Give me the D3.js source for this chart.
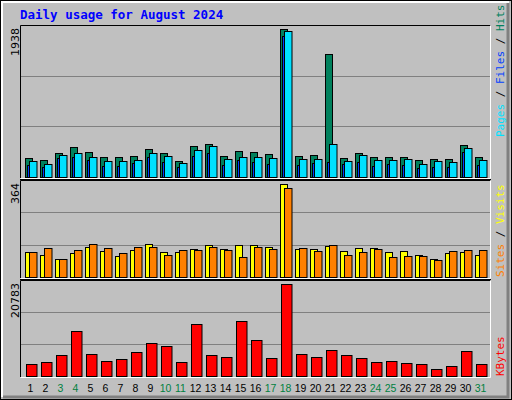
<!DOCTYPE html>
<html><head><meta charset="utf-8">
<script src="https://cdn.jsdelivr.net/npm/d3@7"></script>
<style>body{margin:0;background:#fff}</style>
</head><body><div id="chart"></div>
<script>
// daily values
const days = d3.range(1, 32);
const weekend = [3, 4, 10, 11, 17, 18, 24, 25, 31];
const hits = [254,228,320,399,333,267,267,281,373,320,215,412,438,281,346,333,307,1938,281,294,1609,254,320,267,267,267,228,241,241,425,267];
const files = [215,175,294,320,267,215,215,228,320,281,189,360,412,241,267,267,254,1912,241,241,438,215,294,228,228,241,175,215,202,386,228];
const pages = [162,136,254,267,228,149,149,189,267,202,136,281,320,162,228,202,175,1846,162,189,202,175,202,149,175,162,123,136,136,333,162];
const visits = [96,88,72,92,116,100,84,104,131,96,96,108,124,108,124,124,116,364,108,108,120,100,112,112,96,100,88,72,92,96,88];
const sites = [96,112,72,104,128,112,92,116,116,88,104,104,116,104,80,116,108,348,112,100,124,88,96,108,80,84,84,68,100,104,104];
const kbytes = [2806,3261,4854,10088,5082,3489,3944,5309,7357,6675,3261,11681,4854,4399,12364,8040,4172,20783,5082,4399,5764,4854,4172,3261,3489,3034,2806,1669,2351,5537,2806];

const W = 512, H = 400;
const svg = d3.select('#chart').append('svg').attr('width', W).attr('height', H)
  .style('font-family', 'DejaVu Sans Mono, monospace');

// frame with bevel
svg.append('rect').attr('x', 0).attr('y', 0).attr('width', W).attr('height', H).attr('fill', '#c0c0c0');
svg.append('rect').attr('x', 0.5).attr('y', 0.5).attr('width', W - 1).attr('height', H - 1).attr('fill', 'none').attr('stroke', '#000');
svg.append('path').attr('d', 'M2,397V2H509').attr('stroke', '#fff').attr('stroke-width', 2).attr('fill', 'none');
svg.append('path').attr('d', 'M3,397H508V3').attr('stroke', '#808080').attr('stroke-width', 3).attr('fill', 'none');

svg.append('text').attr('x', 20).attr('y', 19).text('Daily usage for August 2024')
  .attr('fill', '#0000ff').attr('font-weight', 'bold').attr('font-size', 12.5);

const x = d3.scaleBand().domain(days).range([21, 486]);

const panels = [
  {top: 25, bottom: 177, max: 1938},
  {top: 180, bottom: 277, max: 364},
  {top: 280, bottom: 376, max: 20783}
];
panels.forEach(p => {
  p.y = d3.scaleLinear().domain([0, p.max]).range([p.bottom, p.top + 4]);
  const g = svg.append('g');
  g.append('rect').attr('x', 20).attr('y', p.top).attr('width', 471).attr('height', p.bottom - p.top + 1)
    .attr('fill', '#c0c0c0');
  [1, 2].forEach(i => {
    const yy = Math.round(p.bottom - (p.bottom - p.top) * i / 3) + 0.5;
    g.append('line').attr('x1', 21).attr('x2', 490).attr('y1', yy).attr('y2', yy).attr('stroke', '#808080');
  });
  g.append('path').attr('d', `M20.5,${p.bottom + 1}V${p.top + 0.5}H490.5`).attr('stroke', '#000').attr('fill', 'none');
  g.append('path').attr('d', `M20.5,${p.bottom + 1.5}H490.5V${p.top + 0.5}`).attr('stroke', '#fff').attr('fill', 'none');
  svg.append('text').attr('transform', `translate(19,${p.top + 3}) rotate(-90)`)
    .attr('text-anchor', 'end').attr('font-size', 11).attr('font-family', 'DejaVu Sans')
    .text(p.max);
});
svg.append('line').attr('x1', 20).attr('x2', 491).attr('y1', 179.5).attr('y2', 179.5).attr('stroke', '#000');
svg.append('line').attr('x1', 20).attr('x2', 491).attr('y1', 279.5).attr('y2', 279.5).attr('stroke', '#000');

function bars(data, panel, dx, w, color) {
  const y = panel.y;
  svg.append('g').selectAll('rect').data(data).join('rect')
    .attr('x', (d, i) => x(days[i]) + dx + 0.5)
    .attr('y', d => Math.round(y(d)) + 0.5)
    .attr('width', w)
    .attr('height', d => panel.bottom - Math.round(y(d)))
    .attr('fill', color).attr('stroke', '#000');
}
bars(hits, panels[0], 4, 7, '#00805c');
bars(pages, panels[0], 6, 2, '#0040ff');
bars(files, panels[0], 8, 7.5, '#00e0ff');
bars(visits, panels[1], 4, 7, '#ffff00');
bars(sites, panels[1], 8, 7.5, '#ff8000');
bars(kbytes, panels[2], 5, 10.5, '#ff0000');

// day labels
svg.append('g').selectAll('text').data(days).join('text')
  .attr('x', d => x(d) + x.bandwidth() / 2 + 2)
  .attr('y', 392).attr('text-anchor', 'middle').attr('font-size', 10.5).attr('font-family', 'Liberation Sans')
  .attr('fill', d => weekend.includes(d) ? '#008040' : '#000').text(d => d);

// right-side legends
function legend(yBottom, parts) {
  const t = svg.append('text').attr('transform', `translate(504,${yBottom}) rotate(-90)`)
    .attr('font-size', 11).attr('xml:space', 'preserve');
  parts.forEach(([s, c]) => t.append('tspan').attr('fill', c).text(s));
}
legend(137, [['Pages', '#00e0ff'], [' / ', '#000'], ['Files', '#0040ff'], [' / ', '#000'], ['Hits', '#00805c']]);
legend(277, [['Sites', '#ff8000'], [' / ', '#000'], ['Visits', '#ffff00']]);
legend(376, [['KBytes', '#ff0000']]);
</script></body></html>
